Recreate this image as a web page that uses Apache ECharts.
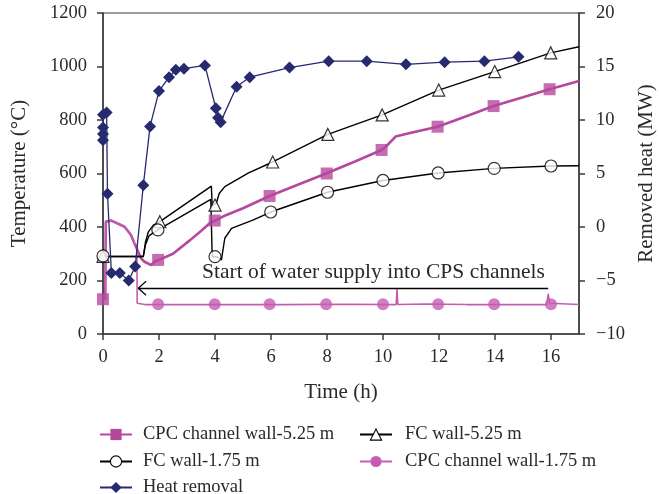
<!DOCTYPE html>
<html>
<head>
<meta charset="utf-8">
<script src="https://cdn.jsdelivr.net/npm/echarts@6/dist/echarts.min.js"></script>
<style>html,body{margin:0;padding:0;background:#fff;}#c{width:659px;height:494px;}</style>
</head>
<body>
<div id="c"></div>
<script>
// ---- data (time in h, temperature in °C, heat in MW) ----
const namesList = ['CPC channel wall-5.25 m', 'FC wall-5.25 m', 'FC wall-1.75 m', 'CPC channel wall-1.75 m', 'Heat removal'];

const cpc525Curve = [[0,130],[0.08,130],[0.1,420],[0.3,424],[0.77,401],[1.0,370],[1.12,339],[1.36,283],[1.48,270],[1.72,258],[1.86,272],[2.0,277],[2.5,300],[3.1,350],[3.5,385],[3.81,414],[4.0,424],[4.3,440],[5.0,470],[5.95,516],[7.0,560],[7.97,600],[9.0,645],[9.95,688],[10.1,700],[10.45,738],[11.0,752],[11.95,775],[13.0,815],[13.95,852],[15.0,885],[15.95,915],[17,946]];
const cpc525Marks = [[0,130],[1.97,277],[3.99,424],[5.95,516],[7.99,600],[9.95,688],[11.95,775],[13.95,852],[15.95,915]];

const fc525Curve = [[0,290],[1.44,290],[1.52,345],[1.62,382],[1.8,407],[2.03,420],[3.87,553],[3.9,478],[4.05,490],[4.15,525],[4.35,551],[5.2,602],[6.06,643],[8.03,746],[9.97,819],[11.99,912],[13.99,981],[15.99,1051],[17,1074]];
const fc525Marks = [[0,290],[2.03,420],[4.0,482],[6.06,643],[8.03,746],[9.97,819],[11.99,912],[13.99,981],[15.99,1051]];

const fc175Curve = [[0,290],[1.44,290],[1.52,335],[1.65,368],[1.96,389],[3.85,503],[3.9,289],[4.05,289],[4.23,277],[4.35,358],[4.59,395],[5.35,426],[5.99,456],[8.02,530],[10.0,574],[11.97,602],[13.97,619],[16.0,628],[17,629]];
const fc175Marks = [[0,292],[1.96,389],[4.0,289],[5.99,456],[8.02,530],[10.0,574],[11.97,602],[13.97,619],[16.0,628]];

const cpc175Curve = [[0,130],[0.08,130],[0.1,420],[0.3,424],[0.77,401],[1.0,370],[1.12,339],[1.21,330],[1.22,115],[1.5,110],[6.5,110],[8.6,111],[10.47,110],[10.5,170],[10.53,110],[11.5,112],[13.0,110],[15.85,110],[15.9,150],[15.95,115],[17,110]];
const cpc175Marks = [[1.97,111],[3.99,111],[5.95,111],[7.97,111],[10.0,111],[11.97,111],[13.97,111],[16.0,111]];

const heatRemoval = [[0,8.1],[0,8.7],[0,9.3],[0,10.5],[0.13,10.7],[0.16,3.1],[0.3,-4.3],[0.6,-4.3],[0.92,-5.0],[1.15,-3.7],[1.44,3.9],[1.68,9.4],[2.0,12.7],[2.36,14.0],[2.6,14.7],[2.89,14.8],[3.64,15.1],[4.03,11.1],[4.11,10.2],[4.2,9.8],[4.77,13.1],[5.24,14.0],[6.66,14.9],[8.06,15.5],[9.42,15.5],[10.82,15.2],[12.2,15.4],[13.62,15.5],[14.84,15.9]];

// annotation: arrow from right end to left tip, at temperature level
const arrowTail = [15.9, 171];
const arrowTip = [1.26, 171];
const annotationText = 'Start of water supply into CPS channels';
const annotationAt = [9.66, 232];

// ---- chart ----
const FONT = 'Liberation Serif';
const AX = '#3a3a3a';
const TXT = '#2a2a2a';
const C_CPC525 = '#b5489e';
const C_CPC175 = '#c45db2';
const C_NAVY = '#262a6e';

const chart = echarts.init(document.getElementById('c'), null, {renderer: 'canvas'});

const axisCommon = {
  axisLine: {show: true, onZero: false, lineStyle: {color: AX, width: 1.5}},
  axisTick: {show: true, inside: false, length: 6, lineStyle: {color: AX, width: 1.5}},
  splitLine: {show: false},
  axisLabel: {color: TXT, fontFamily: FONT, fontSize: 18.5},
  nameTextStyle: {color: TXT, fontFamily: FONT, fontSize: 21},
  nameLocation: 'middle'
};

const chevronLen = [0.28, 26];

const legendText = {fontFamily: FONT, fontSize: 18.5, color: TXT};
function legendAt(name, left, top, pad) {
  return {
    orient: 'horizontal', left: left, top: top, itemWidth: 32, itemHeight: 14,
    data: [name],
    itemStyle: {borderWidth: 1.1},
    textStyle: Object.assign({}, legendText, {padding: [0, 0, 0, pad]})
  };
}

chart.setOption({
  animation: false,
  grid: {left: 103, right: 80, top: 13, bottom: 160, show: true, borderColor: AX, borderWidth: 1.2, outerBoundsMode: 'none', containLabel: false},
  xAxis: Object.assign({}, axisCommon, {
    type: 'value', min: 0, max: 17, interval: 2,
    name: 'Time (h)', nameGap: 48,
    axisLabel: Object.assign({}, axisCommon.axisLabel, {margin: 14, showMaxLabel: false})
  }),
  yAxis: [
    Object.assign({}, axisCommon, {
      type: 'value', min: 0, max: 1200, interval: 200, position: 'left',
      name: 'Temperature (°C)', nameGap: 73,
      axisLabel: Object.assign({}, axisCommon.axisLabel, {margin: 16, formatter: v => String(v)})
    }),
    Object.assign({}, axisCommon, {
      type: 'value', min: -10, max: 20, interval: 5, position: 'right',
      name: 'Removed heat (MW)', nameGap: 48,
      axisLabel: Object.assign({}, axisCommon.axisLabel, {margin: 17, formatter: v => v < 0 ? '\u2212' + Math.abs(v) : String(v)})
    })
  ],
  legend: [
    legendAt(namesList[0], 94, 420, 6),
    legendAt(namesList[1], 354, 420, 8),
    legendAt(namesList[2], 94, 447, 6),
    legendAt(namesList[3], 354, 447, 8),
    legendAt(namesList[4], 94, 473, 6)
  ],
  series: [
    {
      name: namesList[0], type: 'line', data: cpc525Curve, showSymbol: false, symbol: 'rect',
      lineStyle: {color: C_CPC525, width: 2.6}, itemStyle: {color: C_CPC525}, z: 2
    },
    {
      name: namesList[1], type: 'line', data: fc525Curve, showSymbol: false, symbol: 'triangle',
      lineStyle: {color: '#000', width: 1.4}, itemStyle: {color: '#fff', borderColor: '#000', borderWidth: 1.2}, z: 3
    },
    {
      name: namesList[2], type: 'line', data: fc175Curve, showSymbol: false, symbol: 'circle',
      lineStyle: {color: '#000', width: 1.4}, itemStyle: {color: '#fff', borderColor: '#000', borderWidth: 1.2}, z: 3,
      markLine: {
        silent: true, symbol: 'none', animation: false,
        lineStyle: {color: '#000', width: 1.3, type: 'solid'},
        label: {show: false},
        data: [
          [{coord: arrowTail}, {coord: arrowTip}],
          [{coord: arrowTip}, {coord: [arrowTip[0] + chevronLen[0], arrowTip[1] + chevronLen[1]]}],
          [{coord: arrowTip}, {coord: [arrowTip[0] + chevronLen[0], arrowTip[1] - chevronLen[1]]}]
        ]
      },
      markPoint: {
        silent: true, symbol: 'circle', symbolSize: 1, itemStyle: {color: 'rgba(0,0,0,0)'},
        label: {show: true, position: 'inside', formatter: annotationText, fontFamily: FONT, fontSize: 21.5, color: TXT},
        data: [{coord: annotationAt}]
      }
    },
    {
      name: namesList[3], type: 'line', data: cpc175Curve, showSymbol: false, symbol: 'circle',
      lineStyle: {color: C_CPC175, width: 1.6}, itemStyle: {color: C_CPC175}, z: 2
    },
    {
      name: namesList[4], type: 'line', yAxisIndex: 1, data: heatRemoval, symbol: 'diamond', symbolSize: 12, showSymbol: true,
      lineStyle: {color: C_NAVY, width: 1.3}, itemStyle: {color: C_NAVY}, z: 4
    },
    {name: namesList[0], type: 'scatter', data: cpc525Marks, symbol: 'rect', symbolSize: 12, itemStyle: {color: C_CPC525}, z: 5},
    {name: namesList[1], type: 'scatter', data: fc525Marks, symbol: 'triangle', symbolSize: 12, itemStyle: {color: '#fff', borderColor: '#000', borderWidth: 1.2}, z: 5},
    {name: namesList[2], type: 'scatter', data: fc175Marks, symbol: 'circle', symbolSize: 12, itemStyle: {color: '#fff', borderColor: '#000', borderWidth: 1.2}, z: 5},
    {name: namesList[3], type: 'scatter', data: cpc175Marks, symbol: 'circle', symbolSize: 12, itemStyle: {color: C_CPC175}, z: 5}
  ]
});
</script>
</body>
</html>
